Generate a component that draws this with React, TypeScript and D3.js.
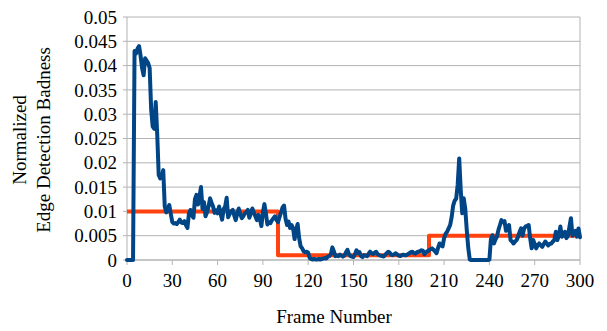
import React from "react";
import * as d3 from "d3";

const W = 607;
const H = 331;

// Measured (blue) series: one value per frame, frames 0..300
const measured: number[] = [
  0, 0, 0, 0, 0, 0.043, 0.0425, 0.0435, 0.044, 0.042,
  0.0395, 0.038, 0.0415, 0.041, 0.0405, 0.0395, 0.031, 0.0275, 0.027, 0.0325,
  0.026, 0.0175, 0.0168, 0.017, 0.0185, 0.011, 0.0098, 0.0105, 0.0113, 0.0095,
  0.0078, 0.0075, 0.0076, 0.0074, 0.0078, 0.0083, 0.0077, 0.0076, 0.008, 0.0072,
  0.0066, 0.0095, 0.0103, 0.0092, 0.0087, 0.0125, 0.0134, 0.0114, 0.013, 0.015,
  0.0105, 0.0119, 0.009, 0.0098, 0.011, 0.0127, 0.0118, 0.011, 0.0097, 0.0102,
  0.0096, 0.011, 0.0095, 0.0083, 0.0105, 0.011, 0.0128, 0.0088, 0.0095, 0.01,
  0.0103, 0.0092, 0.0082, 0.0095, 0.0106, 0.0095, 0.0086, 0.009, 0.0096, 0.0098,
  0.0103, 0.0087, 0.0095, 0.0106, 0.0098, 0.009, 0.0082, 0.0093, 0.0085, 0.007,
  0.0098, 0.0115, 0.0095, 0.0073, 0.0078, 0.0076, 0.0082, 0.0086, 0.009, 0.0082,
  0.0078, 0.0088, 0.0098, 0.0108, 0.0112, 0.0085, 0.0072, 0.0079, 0.0066, 0.0072,
  0.0065, 0.0043, 0.0062, 0.0074, 0.0045, 0.0028, 0.0024, 0.0018, 0.0016, 0.0017,
  0.0015, 0.0004, 0.0002, 0.0001, 0.0002, 0.0001, 0.0001, 0.0002, 0.0001, 0.0002,
  0.0003, 0.0004, 0.0003, 0.0007, 0.0008, 0.0012, 0.0026, 0.0018, 0.0008, 0.0009,
  0.0008, 0.0011, 0.0009, 0.0007, 0.0009, 0.0016, 0.0021, 0.0012, 0.0008, 0.0007,
  0.0006, 0.0012, 0.002, 0.0014, 0.0016, 0.0008, 0.0006, 0.001, 0.0009, 0.0008,
  0.0013, 0.0017, 0.0014, 0.0012, 0.0015, 0.0017, 0.0012, 0.001, 0.0009, 0.0008,
  0.0007, 0.0011, 0.0014, 0.0017, 0.0015, 0.0011, 0.001, 0.0012, 0.0014, 0.0011,
  0.0009, 0.0008, 0.001, 0.0011, 0.001, 0.001, 0.0012, 0.0014, 0.0016, 0.0017,
  0.0014, 0.0013, 0.0016, 0.0017, 0.0018, 0.002, 0.0019, 0.0012, 0.0016, 0.0018,
  0.002, 0.0022, 0.0024, 0.0021, 0.0018, 0.0014, 0.0025, 0.0034, 0.003, 0.0028,
  0.0045, 0.0054, 0.0058, 0.0065, 0.0072, 0.0088, 0.0112, 0.0122, 0.0126, 0.0155,
  0.0209, 0.0145, 0.0096, 0.0127, 0.0106, 0.0062, 0.0025, 0.0001, 0, 0,
  0, 0, 0, 0, 0, 0, 0, 0, 0, 0,
  0.0001, 0.0043, 0.0051, 0.0034, 0.0042, 0.0048, 0.0062, 0.0072, 0.0082, 0.0078,
  0.008, 0.006, 0.0066, 0.0072, 0.0041, 0.0038, 0.0034, 0.0038, 0.0041, 0.0048,
  0.0058, 0.0065, 0.005, 0.0065, 0.0069, 0.007, 0.0072, 0.0045, 0.0024, 0.0041,
  0.0033, 0.0024, 0.003, 0.0034, 0.003, 0.0027, 0.0033, 0.0038, 0.0034, 0.003,
  0.0033, 0.0034, 0.0038, 0.0041, 0.0058, 0.0041, 0.005, 0.0069, 0.0048, 0.0052,
  0.0058, 0.0045, 0.005, 0.0068, 0.0086, 0.005, 0.0055, 0.006, 0.0048, 0.0065,
  0.0047,
];

// Threshold (orange) step series
const stepFrames: number[] = [0, 100, 200, 300];
const stepValues: number[] = [0.01, 0.001, 0.005, 0.005];

const xTicks: number[] = [0, 30, 60, 90, 120, 150, 180, 210, 240, 270, 300];
const yTicks: number[] = [0, 0.005, 0.01, 0.015, 0.02, 0.025, 0.03, 0.035, 0.04, 0.045, 0.05];

const xTitle = "Frame Number";
const yTitle = ["Normalized", "Edge Detection Badness"];

export default function App() {
  const left = 127, right = 580, top = 17, bottom = 260;
  const x = d3.scaleLinear().domain([0, 300]).range([left, right]);
  const y = d3.scaleLinear().domain([0, 0.05]).range([bottom, top]);

  const blueLine = d3
    .line<number>()
    .x((_, i) => x(i))
    .y((d) => y(d))(measured) as string;

  const redLine = d3
    .line<number>()
    .x((_, i) => x(stepFrames[i]))
    .y((d) => y(d))
    .curve(d3.curveStepAfter)(stepValues) as string;

  const fmtY = (v: number) => String(+v.toFixed(3));
  const gridColor = "#b3b3b3";
  const textStyle: React.CSSProperties = {
    fontFamily: "Liberation Serif, DejaVu Serif, serif",
    fontSize: "19px",
  };

  return (
    <svg
      width={W}
      height={H}
      style={{ position: "absolute", left: 0, top: 0, background: "#fff" }}
    >
      {yTicks.map((t) => (
        <g key={"y" + t}>
          <line x1={left} x2={right} y1={y(t)} y2={y(t)} stroke={gridColor} strokeWidth={1} />
          <line x1={left - 4} x2={left} y1={y(t)} y2={y(t)} stroke={gridColor} strokeWidth={1} />
          <text x={117} y={y(t)} dy="0.35em" textAnchor="end" style={textStyle} fill="#000">
            {fmtY(t)}
          </text>
        </g>
      ))}
      {xTicks.map((t) => (
        <g key={"x" + t}>
          <line x1={x(t)} x2={x(t)} y1={bottom} y2={bottom + 5} stroke={gridColor} strokeWidth={1} />
          <text x={x(t)} y={287} textAnchor="middle" style={textStyle} fill="#000">
            {t}
          </text>
        </g>
      ))}
      <line x1={left} x2={left} y1={top} y2={bottom} stroke={gridColor} strokeWidth={1} />
      <line x1={right} x2={right} y1={top} y2={bottom} stroke={gridColor} strokeWidth={1} />
      <line x1={left} x2={right} y1={bottom} y2={bottom} stroke={gridColor} strokeWidth={1} />

      <path d={redLine} fill="none" stroke="#ff420e" strokeWidth={4} strokeLinejoin="round" />
      <path d={blueLine} fill="none" stroke="#004586" strokeWidth={4} strokeLinejoin="round" strokeLinecap="round" />

      <text x={334} y={323} textAnchor="middle" style={textStyle} fill="#000">
        {xTitle}
      </text>
      <text transform="translate(0,140) rotate(-90)" textAnchor="middle" style={textStyle} fill="#000">
        <tspan x={0} y={26}>{yTitle[0]}</tspan>
        <tspan x={0} y={50}>{yTitle[1]}</tspan>
      </text>
    </svg>
  );
}
